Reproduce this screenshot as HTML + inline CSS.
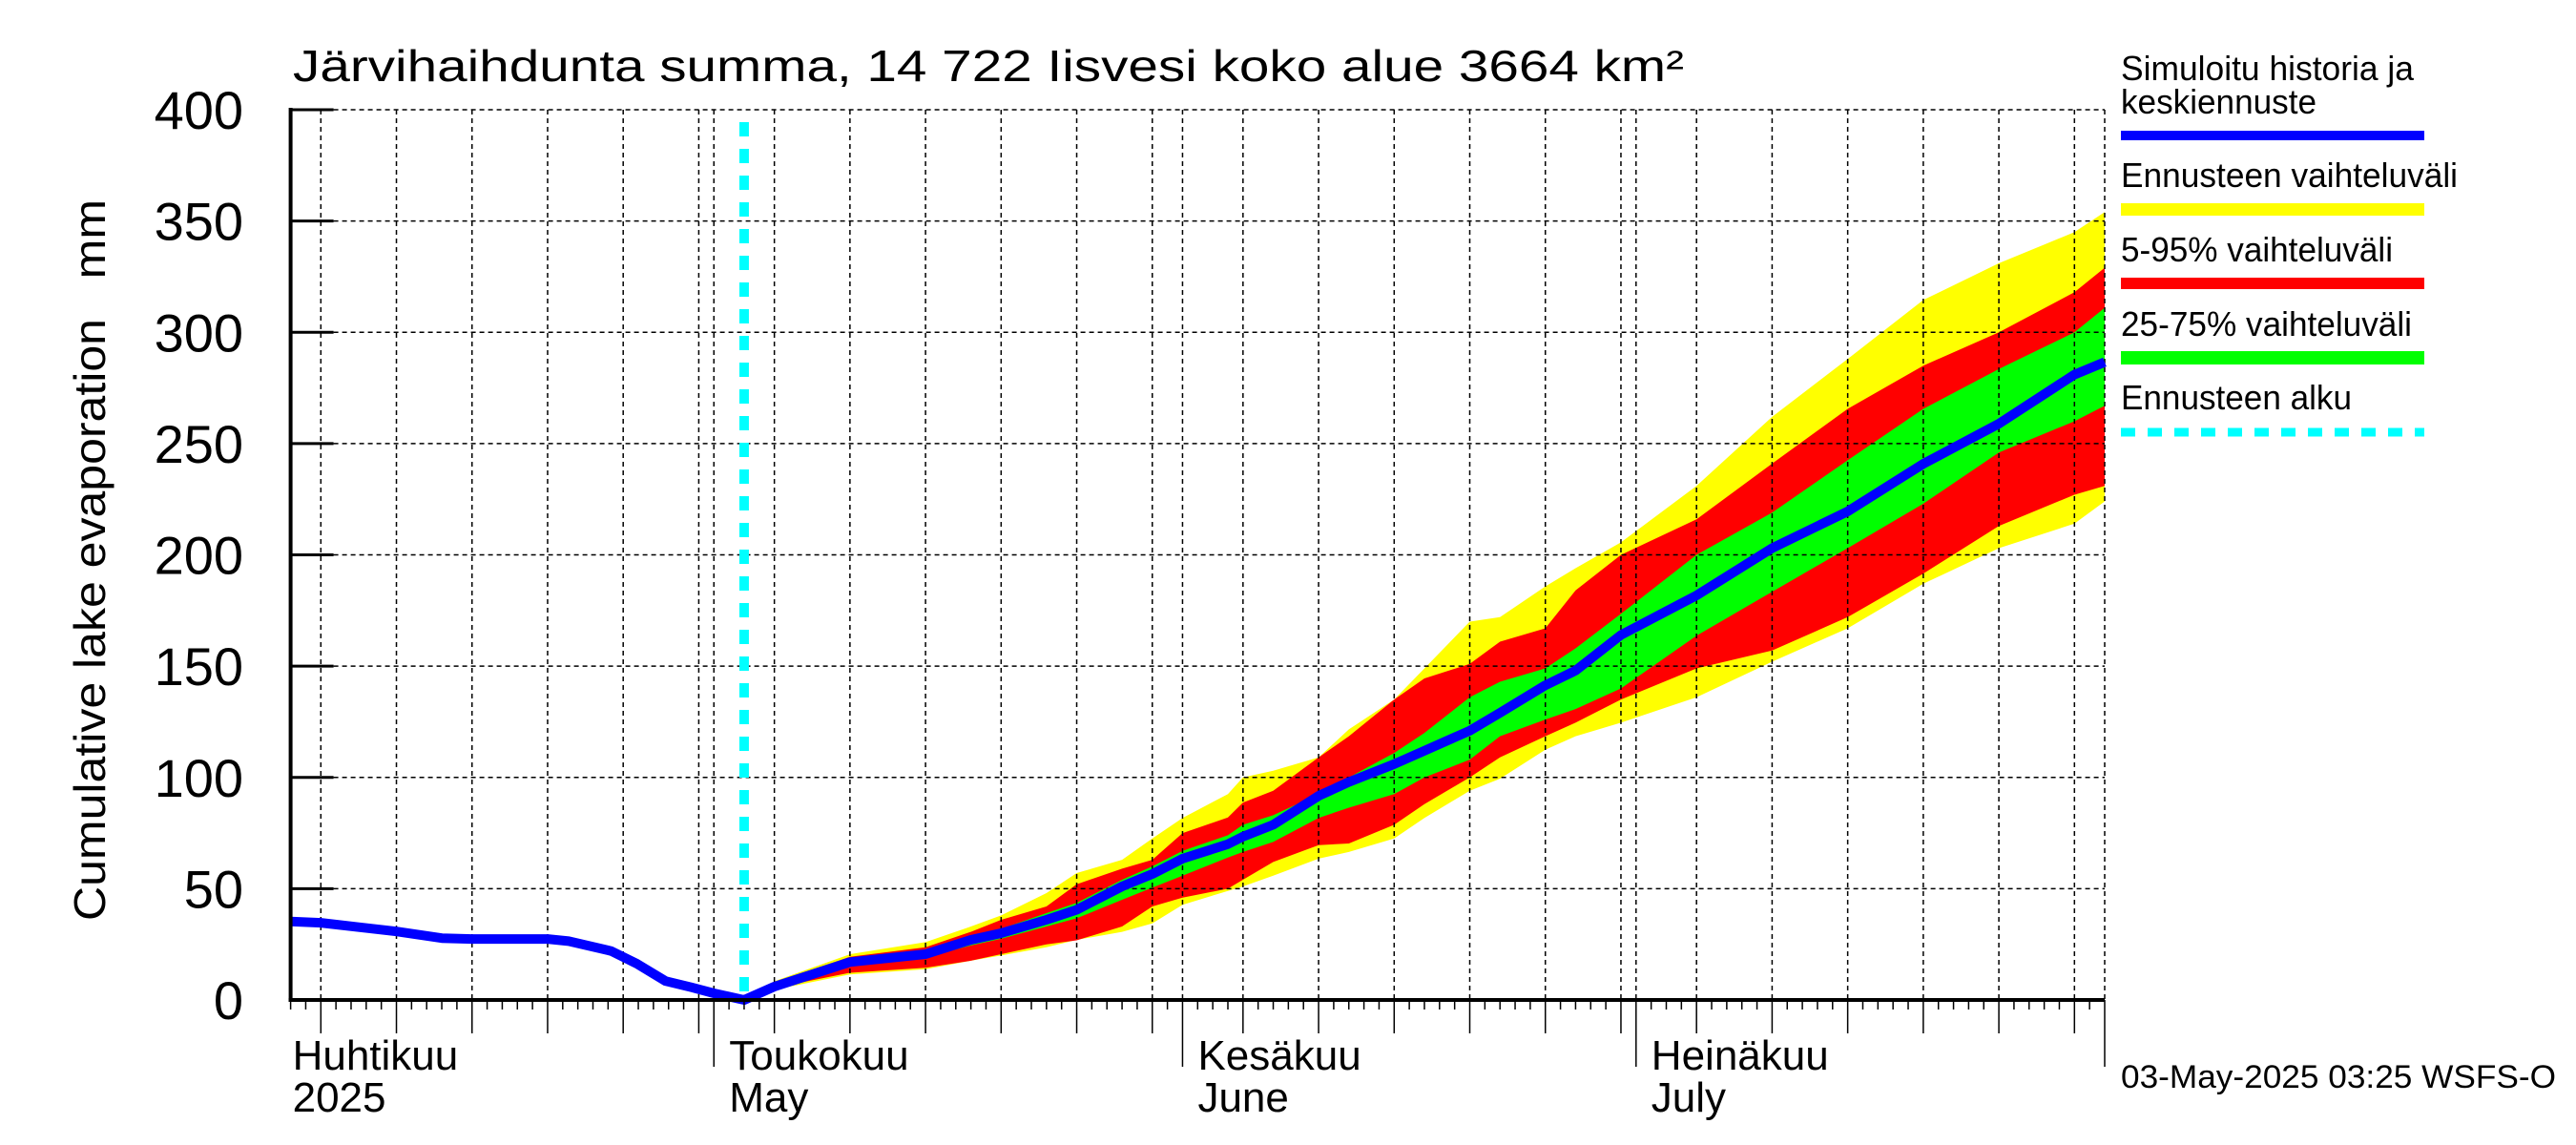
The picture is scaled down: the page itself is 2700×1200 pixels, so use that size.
<!DOCTYPE html>
<html><head><meta charset="utf-8"><style>
html,body{margin:0;padding:0;background:#fff;}
svg{display:block;font-family:"Liberation Sans",Arial,sans-serif;}
</style></head><body>
<svg id="chart" width="2700" height="1200" viewBox="0 0 2700 1200" xmlns="http://www.w3.org/2000/svg">
<rect width="2700" height="1200" fill="#fff"/>
<g id="bands"></g>
<g id="grid"></g>
<g id="lines"></g>
<g id="axes"></g>
<text x="307" y="85" font-size="46" textLength="1458" lengthAdjust="spacingAndGlyphs">Järvihaihdunta summa, 14 722 Iisvesi koko alue 3664 km²</text>
<text transform="translate(110,587) rotate(-90)" text-anchor="middle" font-size="46" textLength="756" lengthAdjust="spacingAndGlyphs">Cumulative lake evaporation&#160;&#160;&#160;mm</text>
<g font-size="36">
<text x="2223" y="84" textLength="307" lengthAdjust="spacingAndGlyphs">Simuloitu historia ja</text>
<text x="2223" y="119" textLength="205" lengthAdjust="spacingAndGlyphs">keskiennuste</text>
<rect x="2223" y="137" width="318" height="10" fill="#0000ff"/>
<text x="2223" y="196" textLength="353" lengthAdjust="spacingAndGlyphs">Ennusteen vaihteluväli</text>
<rect x="2223" y="213" width="318" height="13" fill="#ffff00"/>
<text x="2223" y="274" textLength="285" lengthAdjust="spacingAndGlyphs">5-95% vaihteluväli</text>
<rect x="2223" y="291" width="318" height="12" fill="#ff0000"/>
<text x="2223" y="352" textLength="305" lengthAdjust="spacingAndGlyphs">25-75% vaihteluväli</text>
<rect x="2223" y="368" width="318" height="14" fill="#00ff00"/>
<text x="2223" y="429" textLength="242" lengthAdjust="spacingAndGlyphs">Ennusteen alku</text>
<line x1="2223" y1="453" x2="2541" y2="453" stroke="#00ffff" stroke-width="9" stroke-dasharray="15 13"/>
</g>
<text x="2223" y="1140" font-size="34" textLength="456" lengthAdjust="spacingAndGlyphs">03-May-2025 03:25 WSFS-O</text>
</svg>
<script>
// ---- data ----
const histDays = [0,2,7,10,12,17,18.4,21.2,22.9,24.8,26.5,28,30];
const histValues = [35.3,34.7,30.8,27.8,27.4,27.4,26.4,22,16.3,8.5,5.7,3,0];
const fcDays = [30,32,37,42,45,47,50,52,55,57,59,62,63,65,68,70,73,75,78,80,83,85,88,93,98,103,108,113,118,120];
const median = [0,6,17,20.6,27,30,36,40.5,51,56.6,63.5,70,73.4,78.7,91.7,97.9,106,112,121,129,141.4,148,164,181.8,203,219.5,240.9,258.9,281,286.6];
const rangeHigh = [0,8.4,20.6,26,33,38,48,57,63,72.6,81.8,92.5,100,103,109,121.6,135,149,170,172,185.8,194,205.6,231,262,288,314.5,331,345,354];
const p95 = [0,7.6,19.4,23.7,30.6,36,42,52,59,63,75,82,88.7,94,109,118.5,135,144.5,151,161,167,184,200,216,241,265.6,285,300,318,329];
const p75 = [0,6.6,17.9,21.4,28,32,39,43.6,54,60,67,74,78.7,83,92.5,100,111,120,136,143,149,158,173.5,200,219,242.5,265.6,283.5,300,311];
const p25 = [0,5.4,15.7,19,24.5,27.5,33,36.7,45,50.5,55.8,64,66.5,71,81.8,86.4,92.5,100,108,118.5,126,130.7,140,163.7,183.4,203,223,246,260,267];
const p5 = [0,5.4,12.2,14.5,17.6,20.6,25,26.8,33,42,46,50,54,62,69.6,70.3,78.7,88,100,109,118.5,124.6,135,149,157,172,191.6,213,227,231];
const rangeLow = [0,4.6,11.5,13.8,17.6,20,23.7,27,30.6,34.4,42.8,49,51,55.8,63.5,66.5,72.6,81.8,94,99.4,112.4,118.5,124.6,136,152,167,187,203,214,224];
const yTicks = [0,50,100,150,200,250,300,350,400];
const monthStarts = [28,59,89,120];
const monthLabels = [["Huhtikuu","2025"],["Toukokuu","May"],["Kesäkuu","June"],["Heinäkuu","July"]];
const monthLabelDays = [0,28,59,89];
const forecastStartDay = 30;
// ---- scales ----
const X0=304.6, X1=2206, DMAX=120, Y0=1048, Y400=115;
const sx = d => X0 + d*(X1-X0)/DMAX;
const sy = v => Y0 - v*(Y0-Y400)/400;
const NS="http://www.w3.org/2000/svg";
function mk(tag, parent, attrs){const e=document.createElementNS(NS,tag);for(const k in attrs)e.setAttribute(k,attrs[k]);parent.appendChild(e);return e;}
const bands=document.getElementById('bands'), grid=document.getElementById('grid'), lines=document.getElementById('lines'), axes=document.getElementById('axes');
function band(lo,hi,color,name){
  let p='M'+fcDays.map((d,i)=>sx(d).toFixed(1)+','+sy(hi[i]).toFixed(1)).join('L');
  for(let i=fcDays.length-1;i>=0;i--) p+='L'+sx(fcDays[i]).toFixed(1)+','+sy(lo[i]).toFixed(1);
  const e=mk('path',bands,{d:p+'Z',fill:color});
  
  
}
band(rangeLow,rangeHigh,'#ffff00','band-range');
band(p5,p95,'#ff0000','band-5-95');
band(p25,p75,'#00ff00','band-25-75');
const mOff=[-2,28,59,89];
const gridDays=[], fiveDays=[];
for(let m=0;m<4;m++){for(let dd=5;dd<=30;dd+=5){const d=mOff[m]+dd-1;if(d>0&&d<DMAX){gridDays.push(d);fiveDays.push(d);}}}
monthStarts.forEach(d=>gridDays.push(d));
gridDays.forEach(d=>{
  const e=mk('line',grid,{x1:sx(d),y1:Y400,x2:sx(d),y2:Y0,stroke:'#000','stroke-width':1.5,'stroke-dasharray':'5 4'});
  
  
});
yTicks.forEach(v=>{
  if(v===0) return;
  const e=mk('line',grid,{x1:X0,y1:sy(v),x2:X1,y2:sy(v),stroke:'#000','stroke-width':1.5,'stroke-dasharray':'5 4'});
  
  
});
const fs=mk('line',lines,{x1:sx(forecastStartDay),y1:128,x2:sx(forecastStartDay),y2:Y0,stroke:'#00ffff','stroke-width':10,'stroke-dasharray':'15 13'});


const allD=histDays.concat(fcDays.slice(1)), allV=histValues.concat(median.slice(1));
const ml=mk('polyline',lines,{points:allD.map((d,i)=>sx(d).toFixed(1)+','+sy(allV[i]).toFixed(1)).join(' '),fill:'none',stroke:'#0000ff','stroke-width':10,'stroke-linejoin':'round'});


mk('line',axes,{x1:X0,y1:Y400-2,x2:X0,y2:Y0+2,stroke:'#000','stroke-width':4});
mk('line',axes,{x1:X0-2,y1:Y0,x2:X1,y2:Y0,stroke:'#000','stroke-width':4});
yTicks.forEach(v=>{
  mk('line',axes,{x1:X0,y1:sy(v),x2:X0+45,y2:sy(v),stroke:'#000','stroke-width':3});
  const t=mk('text',axes,{x:255,y:sy(v)+20,'text-anchor':'end','font-size':56});
  t.textContent=v;
  
  
});
for(let d=0;d<=DMAX;d++){
  let len=10;
  if(fiveDays.includes(d)) len=35;
  if(monthStarts.includes(d)) len=70;
  mk('line',axes,{x1:sx(d),y1:Y0,x2:sx(d),y2:Y0+len,stroke:'#000','stroke-width':1.5});
}
monthLabelDays.forEach((d,i)=>{
  const lx = d===0 ? X0+2 : sx(d)+16;
  const t1=mk('text',axes,{x:lx,y:1121,'font-size':44});
  t1.textContent=monthLabels[i][0];
  
  
  const t2=mk('text',axes,{x:lx,y:1165,'font-size':44});
  t2.textContent=monthLabels[i][1];
  
  
});
</script>
</body></html>
